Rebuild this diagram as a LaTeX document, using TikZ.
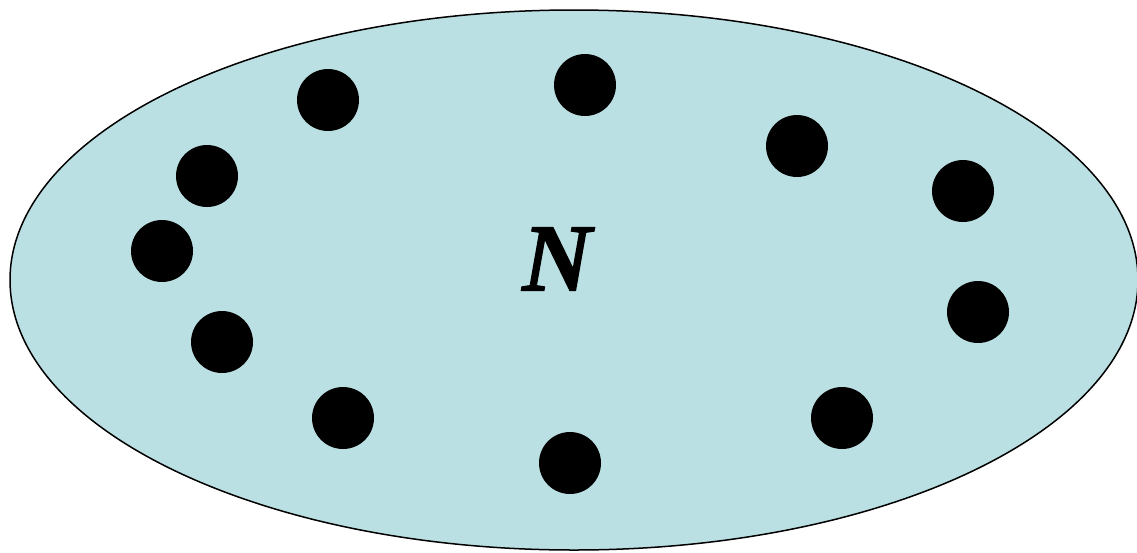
\documentclass[tikz,border=0pt]{standalone}
\usepackage{fontspec}
\newfontfamily\labelfont{LiberationSerif-BoldItalic}[FakeBold=1.5]
\definecolor{setfill}{HTML}{BBE0E3}
\begin{document}
\begin{tikzpicture}[x=1pt,y=-1pt,
  dot/.style={circle,fill=black,minimum size=62pt,inner sep=0pt},
  setshape/.style={draw=black,line width=1.5pt,fill=setfill}]
\useasboundingbox (0,0) rectangle (1137,552);
\path[setshape] (574,280) ellipse [x radius=564, y radius=270];
\node (lbl) at (557,259) {\fontsize{96}{100}\labelfont N};
\node[dot] (d1) at (328,100) {};
\node[dot] (d2) at (585,85) {};
\node[dot] (d3) at (797,146) {};
\node[dot] (d4) at (963,191) {};
\node[dot] (d5) at (978,312) {};
\node[dot] (d6) at (842,418) {};
\node[dot] (d7) at (570,463) {};
\node[dot] (d8) at (343,418) {};
\node[dot] (d9) at (222,342) {};
\node[dot] (d10) at (162,251) {};
\node[dot] (d11) at (207,176) {};
\end{tikzpicture}
\end{document}
